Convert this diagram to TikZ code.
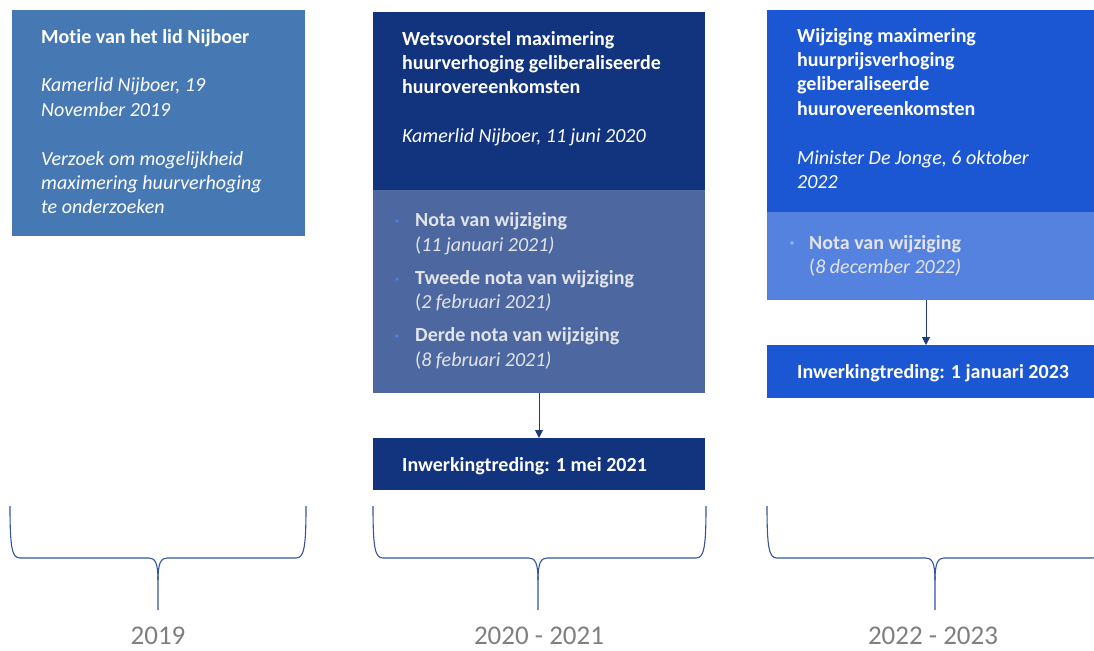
\documentclass[tikz,border=0pt]{standalone}
\usepackage{fontspec}
\setmainfont[Ligatures=NoCommon]{Carlito}
\usetikzlibrary{arrows.meta}
\definecolor{cOne}{HTML}{4679B3}
\definecolor{cTwoTop}{HTML}{12337E}
\definecolor{cTwoLow}{HTML}{4D68A0}
\definecolor{cThreeTop}{HTML}{1C57D3}
\definecolor{cThreeLow}{HTML}{5582DF}
\definecolor{cBrace}{HTML}{34559A}
\definecolor{cArrow}{HTML}{1F3A7A}
\definecolor{cYear}{HTML}{7F7F7F}
\definecolor{cSoft}{HTML}{E2E4EA}
\definecolor{cBulTwo}{HTML}{4A80E6}
\definecolor{cBulThree}{HTML}{9DB4EA}
\begin{document}
\begin{tikzpicture}[x=1pt,y=-1pt,
  box/.style={draw=none,inner sep=0pt,outer sep=0pt},
  % anchor=base west refers to the baseline of the LAST line
  txt/.style={anchor=base west,inner sep=0pt,align=left,text=white,font=\fontsize{20}{24.4}\selectfont},
  soft/.style={txt,text=cSoft},
  year/.style={inner sep=0pt,text=cYear,font=\fontsize{27}{32}\selectfont},
  brace/.style={draw=cBrace,line width=1.1pt},
  arr/.style={draw=cArrow,line width=0.9pt,-{Triangle[width=8pt,length=8pt]}}]
\clip (0,0) rectangle (1094,650);
\fill[white] (0,0) rectangle (1094,650);

% boxes
\node[box,fill=cOne,minimum width=293pt,minimum height=226pt] (b1) at (158.5,123) {};
\node[box,fill=cTwoTop,minimum width=332pt,minimum height=178pt] (b2top) at (539,101) {};
\node[box,fill=cTwoLow,minimum width=332pt,minimum height=203pt] (b2low) at (539,291.5) {};
\node[box,fill=cTwoTop,minimum width=332pt,minimum height=52pt] (inw2) at (539,464) {};
\node[box,fill=cThreeTop,minimum width=336pt,minimum height=202pt] (b3top) at (935,111) {};
\node[box,fill=cThreeLow,minimum width=336pt,minimum height=88pt] (b3low) at (935,256) {};
\node[box,fill=cThreeTop,minimum width=336pt,minimum height=53pt] (inw3) at (935,371.5) {};

% texts (positioned at the baseline of the last line)
\node[txt] (t1) at (41,213.8) {\bfseries Motie van het lid Nijboer\\[24.4pt]
  \itshape Kamerlid Nijboer, 19\\ \itshape November 2019\\[24.4pt]
  \itshape Verzoek om mogelijkheid\\ \itshape maximering huurverhoging\\ \itshape te onderzoeken};

\node[txt] (t2) at (402,142.6) {\bfseries Wetsvoorstel maximering\\ \bfseries huurverhoging geliberaliseerde\\ \bfseries huurovereenkomsten\\[24.4pt]
  \itshape Kamerlid Nijboer, 11 juni 2020};

\node[soft] (n21) at (415,251) {\bfseries Nota van wijziging\\ ({\itshape 11 januari 2021)}};
\node[soft] (n22) at (415,308.5) {\bfseries Tweede nota van wijziging\\ ({\itshape 2 februari 2021)}};
\node[soft] (n23) at (415,366) {\bfseries Derde nota van wijziging\\ ({\itshape 8 februari 2021)}};
\fill[cBulTwo] (397,221) circle (1.9pt);
\fill[cBulTwo] (397,279) circle (1.9pt);
\fill[cBulTwo] (397,336) circle (1.9pt);

\node[txt] (ti2) at (402,471) {\bfseries Inwerkingtreding: 1 mei 2021};

\node[txt] (t3) at (797,188.4) {\bfseries Wijziging maximering\\ \bfseries huurprijsverhoging\\ \bfseries geliberaliseerde\\ \bfseries huurovereenkomsten\\[24.4pt]
  \itshape Minister De Jonge, 6 oktober\\ \itshape 2022};

\node[soft] (n31) at (809,273.5) {\bfseries Nota van wijziging\\ ({\itshape 8 december 2022)}};
\fill[cBulThree] (792,243) circle (1.9pt);

\node[txt] (ti3) at (797,378) {\bfseries Inwerkingtreding: 1 januari 2023};

% arrows
\draw[arr] (b2low.south) -- (inw2.north);
\coordinate (a3) at (926,0);
\draw[arr] (b3low.south -| a3) -- (inw3.north -| a3);

% braces
\foreach \l/\m/\r in {10/158/306, 373/538/706, 767/935/1103} {
  \draw[brace] (\l,506) .. controls (\l,548) and (\l+2,558) .. (\l+10,558) -- (\m-9,558)
     .. controls (\m-3,558) and (\m,563) .. (\m,580) -- (\m,610);
  \draw[brace] (\r,506) .. controls (\r,548) and (\r-2,558) .. (\r-10,558) -- (\m+9,558)
     .. controls (\m+3,558) and (\m,563) .. (\m,580);
}

% years
\node[year] (y1) at (158,636) {2019};
\node[year] (y2) at (539,635.5) {2020 - 2021};
\node[year] (y3) at (933,636) {2022 - 2023};
\end{tikzpicture}
\end{document}
